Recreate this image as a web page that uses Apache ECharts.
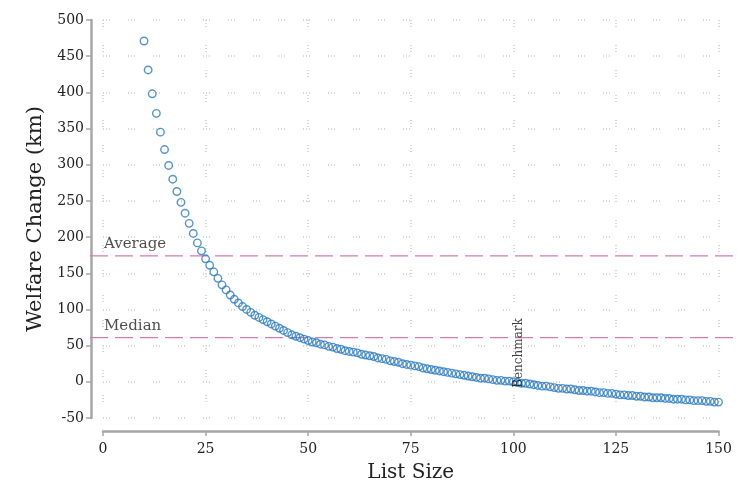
<!DOCTYPE html>
<html>
<head>
<meta charset="utf-8">
<script src="https://cdn.jsdelivr.net/npm/echarts@6/dist/echarts.min.js"></script>
<style>
html,body{margin:0;padding:0;background:#fff;}
#chart{width:737px;height:497px;}
</style>
</head>
<body>
<div id="chart"></div>
<script>
const listSize = [10,11,12,13,14,15,16,17,18,19,20,21,22,23,24,25,26,27,28,29,30,31,32,33,34,35,36,37,38,39,40,41,42,43,44,45,46,47,48,49,50,
51,52,53,54,55,56,57,58,59,60,61,62,63,64,65,66,67,68,69,70,71,72,73,74,75,76,77,78,79,80,
81,82,83,84,85,86,87,88,89,90,91,92,93,94,95,96,97,98,99,100,101,102,103,104,105,106,107,108,109,110,
111,112,113,114,115,116,117,118,119,120,121,122,123,124,125,126,127,128,129,130,131,132,133,134,135,136,137,138,139,140,
141,142,143,144,145,146,147,148,149,150];
const welfare = [471,431,398,371,345,321,299,280,263,248,233,219,205,192,181,170,161,152,143,134,127,120,114,109,104,100,96,92,89,86,83,80,77,74,71,68,65,63,61,59,57,
55,54,52,51,49,48,46,45,43,42,
41,40,38,37,36,35,33,32,31,29,
28,27,25,24,23,22,21,19,18,17,
16,15,14,13,12,11,10,9,8,7,
6,5,5,4,3,2,2,1,1,0,
-1,-2,-2,-3,-4,-5,-6,-6,-7,-8,
-9,-9,-10,-10,-11,-12,-12,-13,-13,-14,
-15,-15,-16,-16,-17,-18,-18,-19,-19,-20,
-20,-21,-21,-22,-22,-22,-23,-23,-24,-24,
-24,-25,-25,-26,-26,-26,-27,-27,-28,-28];
const xTicks = [0,25,50,75,100,125,150];
const yTicks = [-50,0,50,100,150,200,250,300,350,400,450,500];
const refNames = ['Average','Median'];
const refValues = [174,61];
const benchmark = {x:100, y:0, label:'Benchmark'};

const serif = '"DejaVu Serif", "Liberation Serif", serif';
const axisGray = '#a6a6a6';
const gridLine = {show:true, lineStyle:{color:'#d6d6d6', width:2, type:[1,2,1,2,1,18]}};

const chart = echarts.init(document.getElementById('chart'), null, {renderer:'canvas'});
const points = listSize.map((x,i)=>[x, welfare[i]]);

chart.setOption({
  animation:false,
  backgroundColor:'#fff',
  grid:[
    {left:103, right:18.5, top:20, bottom:79},
    {left:90, right:3, top:20, bottom:79}
  ],
  xAxis:[
    {gridIndex:0, type:'value', min:xTicks[0], max:xTicks[xTicks.length-1], interval:25, offset:13,
     name:'List Size', nameLocation:'middle', nameGap:32,
     nameTextStyle:{fontFamily:serif, fontSize:20, color:'#222'},
     axisLine:{show:true, onZero:false, lineStyle:{color:axisGray, width:2.5}},
     axisTick:{show:true, length:5, lineStyle:{color:axisGray, width:1.5}},
     axisLabel:{fontFamily:serif, fontSize:14, color:'#222', margin:11},
     splitLine:gridLine},
    {gridIndex:1, type:'value', min:0, max:1, show:false}
  ],
  yAxis:[
    {gridIndex:0, type:'value', min:yTicks[0], max:yTicks[yTicks.length-1], interval:50, offset:12,
     name:'Welfare Change (km)', nameLocation:'middle', nameGap:45,
     nameTextStyle:{fontFamily:serif, fontSize:21, color:'#222'},
     axisLine:{show:true, onZero:false, lineStyle:{color:axisGray, width:2.5}},
     axisTick:{show:true, length:5, lineStyle:{color:axisGray, width:1.5}},
     axisLabel:{fontFamily:serif, fontSize:14, color:'#222', margin:7},
     splitLine:gridLine},
    {gridIndex:1, type:'value', min:yTicks[0], max:yTicks[yTicks.length-1], show:false}
  ],
  series:[
    ...refValues.map((v,i)=>({
      type:'line', xAxisIndex:1, yAxisIndex:1, data:[[0,v],[1,v]], symbol:'none',
      lineStyle:{color:'#d47bb4', width:1.2, type:[18,7]}, silent:true, z:1
    })),
    {
      type:'scatter', xAxisIndex:0, yAxisIndex:0, data:refValues.map(v=>[xTicks[0],v]),
      symbolSize:0, silent:true,
      label:{show:true, formatter:p=>refNames[p.dataIndex], position:[1,-4], align:'left', verticalAlign:'bottom',
        fontFamily:serif, fontSize:15, color:'#222'}
    },
    {
      type:'scatter', xAxisIndex:0, yAxisIndex:0, data:points,
      symbol:'circle', symbolSize:7.5,
      itemStyle:{color:'rgba(0,0,0,0)', borderColor:'#2b7bc0', borderWidth:1.4},
      z:3
    },
    {
      type:'scatter', xAxisIndex:0, yAxisIndex:0, data:[[benchmark.x, benchmark.y]],
      symbolSize:0, silent:true, z:4,
      label:{show:true, formatter:benchmark.label, rotate:90, position:[0,6], align:'left', verticalAlign:'top',
        fontFamily:serif, fontSize:12, color:'#111'}
    }
  ]
});
</script>
</body>
</html>
